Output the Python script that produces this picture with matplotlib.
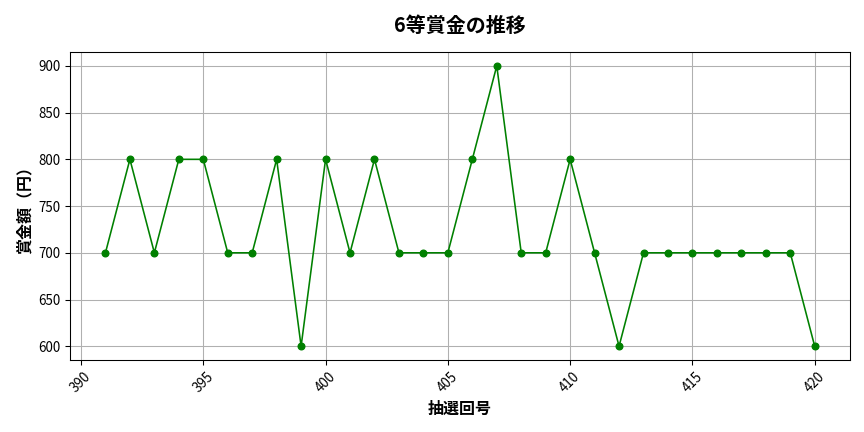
import matplotlib
matplotlib.use("Agg")
import matplotlib.pyplot as plt

plt.rcParams['font.family'] = ['Noto Sans CJK JP', 'DejaVu Sans']

draws = list(range(391, 421))
prizes = [700, 800, 700, 800, 800, 700, 700, 800, 600, 800,
          700, 800, 700, 700, 700, 800, 900, 700, 700, 800,
          700, 600, 700, 700, 700, 700, 700, 700, 700, 600]

fig, ax = plt.subplots(figsize=(9, 4.5), dpi=96)
ax.plot(draws, prizes, marker='o', color='green', markersize=5, linewidth=1.2)

ax.set_title("6等賞金の推移", fontsize=15, fontweight='bold', pad=15)
ax.set_xlabel("抽選回号", fontsize=12, fontweight='semibold', labelpad=4)
ax.set_ylabel("賞金額（円）", fontsize=12, fontweight='semibold')
ax.grid(True, color='#b0b0b0', linewidth=0.8)
plt.xticks(rotation=45)
ax.tick_params(labelsize=10)

plt.subplots_adjust(left=0.081, right=0.984, top=0.880, bottom=0.166)
plt.savefig("out.png")
